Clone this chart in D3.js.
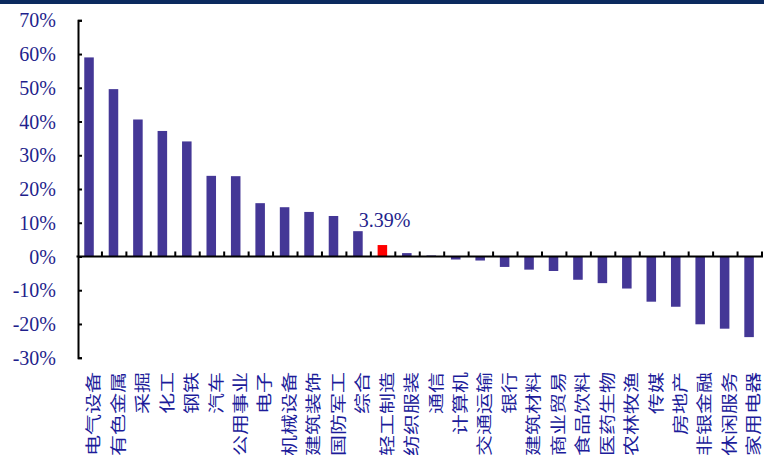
<!DOCTYPE html>
<html>
<head>
<meta charset="utf-8">
<script src="https://cdn.jsdelivr.net/npm/d3@7/dist/d3.min.js"></script>
<style>
  html, body { margin: 0; padding: 0; background: #fff; }
  svg { display: block; }
</style>
</head>
<body>
<svg id="chart" width="764" height="455"></svg>
<script>
// Sector returns, sorted from best to worst
const categories = ["电气设备","有色金属","采掘","化工","钢铁","汽车","公用事业","电子","机械设备","建筑装饰","国防军工","综合","轻工制造","纺织服装","通信","计算机","交通运输","银行","建筑材料","商业贸易","食品饮料","医药生物","农林牧渔","传媒","房地产","非银金融","休闲服务","家用电器"];
const returns = [59.0,49.6,40.6,37.2,34.1,23.9,23.8,15.8,14.6,13.2,12.0,7.5,3.39,1.0,0.3,-0.9,-1.2,-3.1,-3.9,-4.3,-6.9,-7.9,-9.5,-13.4,-14.9,-20.1,-21.4,-23.9];
const highlighted = ["轻工制造"];
const yTicks = [-30,-20,-10,0,10,20,30,40,50,60,70];

const svg = d3.select("#chart");
const W = 764, H = 455;

const navy = "#1f1f8c";
const labelBlue = "#1c1c9a";
const barColor = "#443796";
const hiColor = "#ff0000";

// header rule
svg.append("rect").attr("x", 0).attr("y", 0).attr("width", W).attr("height", 4).attr("fill", "#0b2a5e");

const x = d3.scaleBand().domain(categories).range([77.5, 762]).paddingInner(0.61).paddingOuter(0.305);
const y = d3.scaleLinear().domain([-30, 70]).range([357.7, 20.3]);

// bars
svg.append("g").selectAll("rect").data(categories).join("rect")
  .attr("x", d => x(d) - 0.7)
  .attr("width", x.bandwidth())
  .attr("y", (d, i) => Math.min(y(returns[i]), y(0)))
  .attr("height", (d, i) => Math.abs(y(returns[i]) - y(0)))
  .attr("fill", d => highlighted.includes(d) ? hiColor : barColor);

// y axis
const yAxis = d3.axisLeft(y).tickValues(yTicks).tickSizeInner(-4).tickSizeOuter(-4).tickPadding(0).tickFormat(d => d + "%");
const gy = svg.append("g").attr("transform", "translate(78,0)").call(yAxis);
gy.select(".domain").attr("stroke", "#000").attr("stroke-width", 2);
gy.selectAll(".tick line").attr("stroke", "#000").attr("stroke-width", 2);
gy.selectAll(".tick text")
  .attr("x", -22)
  .attr("dy", "0.33em")
  .attr("fill", navy)
  .style("font-family", "'Liberation Serif', 'Times New Roman', serif")
  .style("font-size", "20px");

// x axis along zero line with ticks between categories
const step = x.step();
const bounds = d3.range(categories.length + 1).map(i => x.range()[0] + i * step);
const gx = svg.append("g");
gx.append("line").attr("x1", 76.5).attr("x2", 763).attr("y1", y(0)).attr("y2", y(0))
  .attr("stroke", "#000").attr("stroke-width", 2);
gx.selectAll("line.tk").data(bounds.slice(1)).join("line").attr("class", "tk")
  .attr("x1", d => d).attr("x2", d => d)
  .attr("y1", y(0)).attr("y2", y(0) - 5)
  .attr("stroke", "#000").attr("stroke-width", 2);

// category labels, rotated
svg.append("g").selectAll("text").data(categories).join("text")
  .attr("transform", d => `translate(${x(d) + x.bandwidth() / 2 + 4},372) rotate(-90) scale(1,0.74)`)
  .attr("text-anchor", "end")
  .attr("dy", "0.36em")
  .attr("fill", labelBlue)
  .style("font-family", "'Noto Sans CJK SC', sans-serif")
  .style("font-size", "21px")
  .text(d => d);

// value label on highlighted bar
highlighted.forEach(c => {
  const v = returns[categories.indexOf(c)];
  svg.append("text")
    .attr("x", x(c) + x.bandwidth() / 2 + 1.5)
    .attr("y", y(v) - 18.5)
    .attr("text-anchor", "middle")
    .attr("fill", navy)
    .style("font-family", "'Liberation Serif', 'Times New Roman', serif")
    .style("font-size", "20px")
    .text(v.toFixed(2) + "%");
});
</script>
</body>
</html>
